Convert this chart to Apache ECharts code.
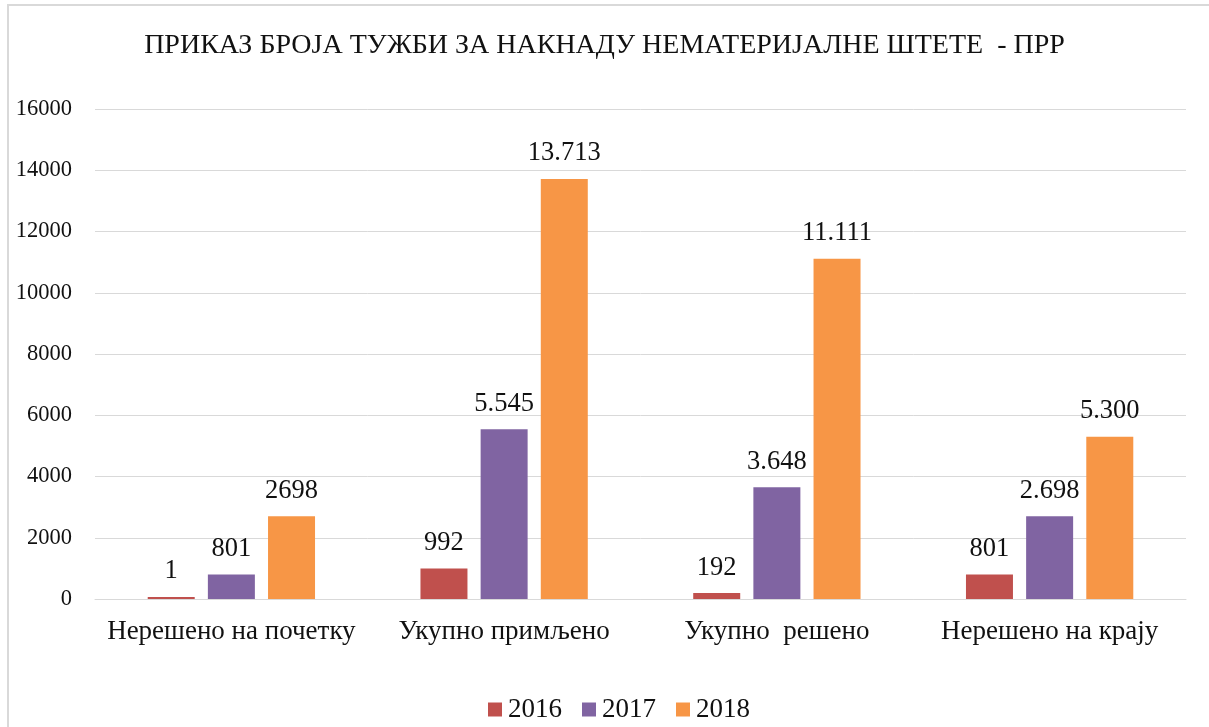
<!DOCTYPE html>
<html>
<head>
<meta charset="utf-8">
<script src="https://cdn.jsdelivr.net/npm/echarts@6/dist/echarts.min.js"></script>
<style>
  html, body { margin: 0; padding: 0; background: #fff; overflow: hidden; }
  #chart { width: 1209px; height: 727px; }
</style>
</head>
<body>
<div id="chart"></div>
<script>
  const titleText = "ПРИКАЗ БРОЈА ТУЖБИ ЗА НАКНАДУ НЕМАТЕРИЈАЛНЕ ШТЕТЕ  - ПРР"
  const categories = ["Нерешено на почетку", "Укупно примљено", "Укупно  решено", "Нерешено на крају"]
  const years = ["2016", "2017", "2018"]

  const values2016 = [1, 992, 192, 801]
  const values2017 = [801, 5545, 3648, 2698]
  const values2018 = [2698, 13713, 11111, 5300]

  // labels as printed in the source (mixed formatting)
  const labels2016 = ["1", "992", "192", "801"]
  const labels2017 = ["801", "5.545", "3.648", "2.698"]
  const labels2018 = ["2698", "13.713", "11.111", "5.300"]

  const yTicks = { min: 0, max: 16000, interval: 2000 }
  const colors = ["#C0504D", "#8064A2", "#F79646"]
  const font = "'Liberation Serif', 'Times New Roman', serif"

  const chart = echarts.init(document.getElementById("chart"))

  function barSeries(name, values, labels, color) {
    return {
      name,
      type: "bar",
      data: values,
      barWidth: 47,
      barGap: "28%",
      barMinHeight: 2,
      itemStyle: { color },
      label: {
        show: true,
        position: "top",
        distance: 12,
        fontFamily: font,
        fontSize: 26.5,
        color: "#111",
        formatter: p => labels[p.dataIndex]
      }
    }
  }

  chart.setOption({
    backgroundColor: "#ffffff",
    animation: false,
    textStyle: { fontFamily: font },
    graphic: [{
      type: "rect",
      shape: { x: 8, y: 5, width: 1220, height: 740 },
      style: { fill: "none", stroke: "#d9d9d9", lineWidth: 2 },
      silent: true
    }],
    title: {
      text: titleText,
      left: "center",
      top: 27,
      textStyle: { fontFamily: font, fontSize: 28, fontWeight: "normal", color: "#111" }
    },
    legend: {
      data: years,
      bottom: -1,
      left: 483,
      itemWidth: 14,
      itemHeight: 14,
      itemGap: 20,
      icon: "rect",
      textStyle: { fontFamily: font, fontSize: 27, color: "#111", padding: [0, 0, 0, 1] }
    },
    grid: { left: 95, right: 23, top: 109, bottom: 128 },
    xAxis: {
      type: "category",
      data: categories,
      axisLine: { lineStyle: { color: "#d9d9d9", width: 1 } },
      axisTick: { show: false },
      axisLabel: { fontFamily: font, fontSize: 27, color: "#111", margin: 19, interval: 0 }
    },
    yAxis: {
      type: "value",
      min: yTicks.min,
      max: yTicks.max,
      interval: yTicks.interval,
      axisLine: { show: false },
      axisTick: { show: false },
      splitLine: { lineStyle: { color: "#d9d9d9", width: 1 } },
      axisLabel: {
        fontFamily: font, fontSize: 22.5, color: "#111", margin: 23,
        formatter: v => String(v)
      }
    },
    series: [
      barSeries(years[0], values2016, labels2016, colors[0]),
      barSeries(years[1], values2017, labels2017, colors[1]),
      barSeries(years[2], values2018, labels2018, colors[2])
    ]
  })
</script>
</body>
</html>
